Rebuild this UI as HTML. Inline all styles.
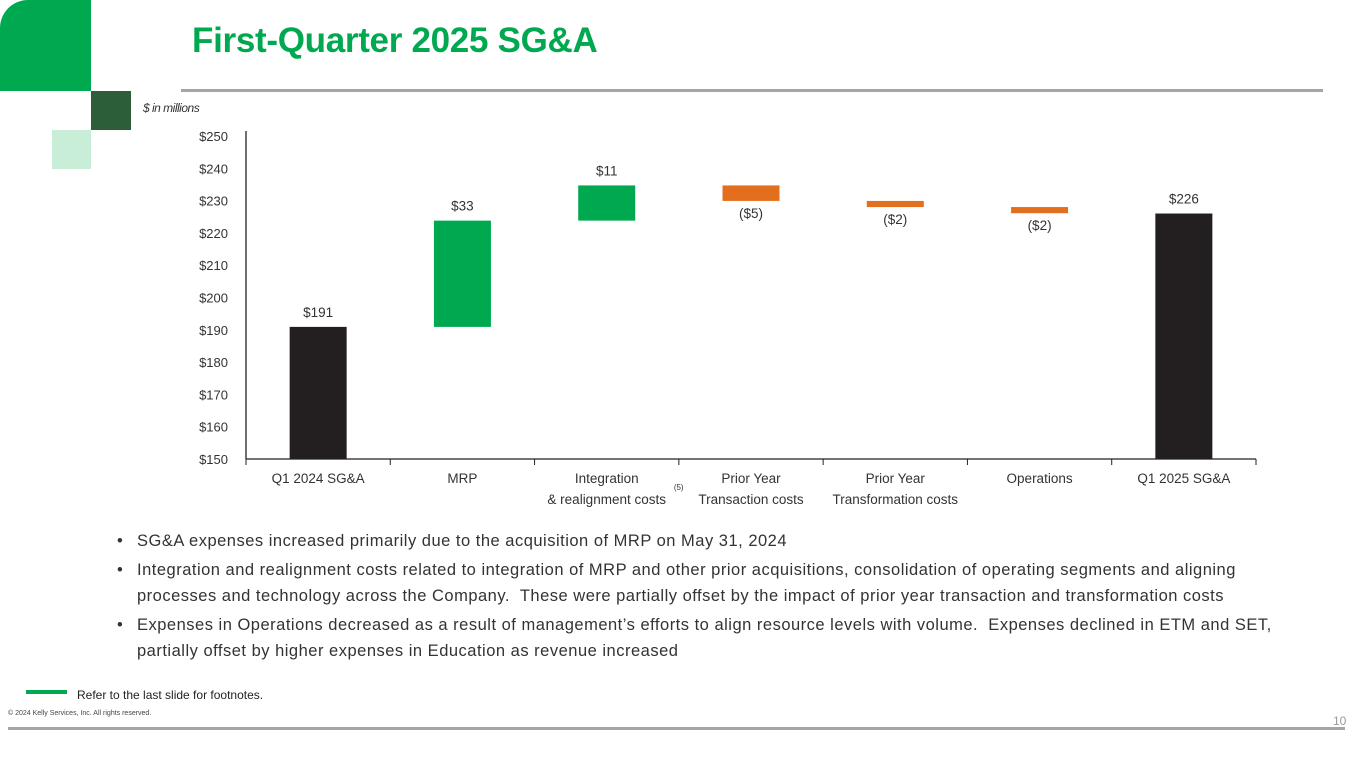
<!DOCTYPE html>
<html><head><meta charset="utf-8"><style>
body{margin:0;width:1365px;height:768px;background:#fff;font-family:"Liberation Sans",sans-serif;position:relative;overflow:hidden}
.abs{position:absolute}
.b{position:relative;padding-left:20px;white-space:nowrap;margin-bottom:3px}
.b span.dot{position:absolute;left:0;top:0}
</style></head><body>
<div class="abs" style="left:0;top:0;width:91px;height:91px;background:#00a94f;border-top-left-radius:28px"></div>
<div class="abs" style="left:91px;top:91px;width:40px;height:39px;background:#2c5e3a"></div>
<div class="abs" style="left:52px;top:130px;width:39px;height:39px;background:#c8eed8"></div>
<div class="abs" style="left:192px;top:21px;font-size:35px;font-weight:bold;color:#00a94f;letter-spacing:-0.3px">First-Quarter 2025 SG&amp;A</div>
<div class="abs" style="left:181px;top:89px;width:1142px;height:3px;background:#a6a4a6"></div>
<div class="abs" style="left:143px;top:101px;font-size:12px;font-style:italic;color:#333;letter-spacing:-0.5px">$ in millions</div>
<svg class="abs" style="left:0;top:0" width="1365" height="768" id="chart"></svg>
<div class="abs" style="left:117px;top:528px;font-size:16.5px;letter-spacing:0.5px;color:#333;line-height:26px">
<div class="b"><span class="dot">•</span>SG&amp;A expenses increased primarily due to the acquisition of MRP on May 31, 2024</div>
<div class="b"><span class="dot">•</span>Integration and realignment costs related to integration of MRP and other prior acquisitions, consolidation of operating segments and aligning<br>processes and technology across the Company.&nbsp; These were partially offset by the impact of prior year transaction and transformation costs</div>
<div class="b"><span class="dot">•</span>Expenses in Operations decreased as a result of management’s efforts to align resource levels with volume.&nbsp; Expenses declined in ETM and SET,<br>partially offset by higher expenses in Education as revenue increased</div>
</div>
<div class="abs" style="left:26px;top:690px;width:41px;height:4px;background:#00a94f"></div>
<div class="abs" style="left:77px;top:688px;font-size:12px;color:#222">Refer to the last slide for footnotes.</div>
<div class="abs" style="left:8px;top:710px;font-size:7px;color:#444">© 2024 Kelly Services, Inc. All rights reserved.</div>
<div class="abs" style="left:1333px;top:714px;font-size:12px;color:#999">10</div>
<div class="abs" style="left:8px;top:727px;width:1337px;height:3px;background:#a6a4a6"></div>
<script>
const categories=["Q1 2024 SG&A","MRP","Integration|& realignment costs","Prior Year|Transaction costs","Prior Year|Transformation costs","Operations","Q1 2025 SG&A"];
const startValue=190.9;
const deltas=[32.9,10.9,-4.8,-1.9,-1.9];
const endValue=226;
const valueLabels=["$191","$33","$11","($5)","($2)","($2)","$226"];
const yTicks=[150,160,170,180,190,200,210,220,230,240,250];
const NS="http://www.w3.org/2000/svg";
const svg=document.getElementById('chart');
const X0=246,X1=1256,Y0=459,Y1=136,ymin=150,ymax=250;
const bw=(X1-X0)/categories.length;
function y(v){return Y0-(v-ymin)/(ymax-ymin)*(Y0-Y1);}
function xc(i){return X0+bw*(i+0.5);}
function el(t,a){const e=document.createElementNS(NS,t);for(const k in a)e.setAttribute(k,a[k]);svg.appendChild(e);return e;}
function txt(x,yy,s,anchor,size,name){const t=el('text',{x:x,y:yy,'text-anchor':anchor,'font-size':size,fill:'#333','font-family':'Liberation Sans, sans-serif'});t.textContent=s;return t;}
const ax=el('line',{x1:X0,y1:Y1-5,x2:X0,y2:Y0,stroke:'#222','stroke-width':1.3});

const bx=el('line',{x1:X0,y1:Y0,x2:X1,y2:Y0,stroke:'#222','stroke-width':1.3});

for(let i=0;i<=categories.length;i++){const t=el('line',{x1:X0+bw*i,y1:Y0,x2:X0+bw*i,y2:Y0+6,stroke:'#222'});}
yTicks.forEach(v=>txt(X0-18,y(v)+5,'$'+v,'end',13,'y-tick-label'));
categories.forEach((c,i)=>{c.split('|').forEach((l,j)=>txt(xc(i),Y0+24+j*21,l,'middle',13.5,'x-category-label'));});
txt(xc(2)+72,Y0+31,'(5)','middle',8,'footnote-ref');
let cum=startValue;const bars=[[ymin,startValue,'#231f20']];
deltas.forEach(d=>{const a=cum,b=cum+d;bars.push([Math.min(a,b),Math.max(a,b),d>=0?'#00a94f':'#e36f1e']);cum=b;});
bars.push([ymin,endValue,'#231f20']);
const w=57;
bars.forEach((b,i)=>{const r=el('rect',{x:xc(i)-w/2,y:y(b[1]),width:w,height:y(b[0])-y(b[1]),fill:b[2]});

const neg=i>0&&i<bars.length-1&&deltas[i-1]<0;
txt(xc(i),neg?y(b[0])+17:y(b[1])-10,valueLabels[i],'middle',13.5,'value-label');});
</script>
</body></html>
